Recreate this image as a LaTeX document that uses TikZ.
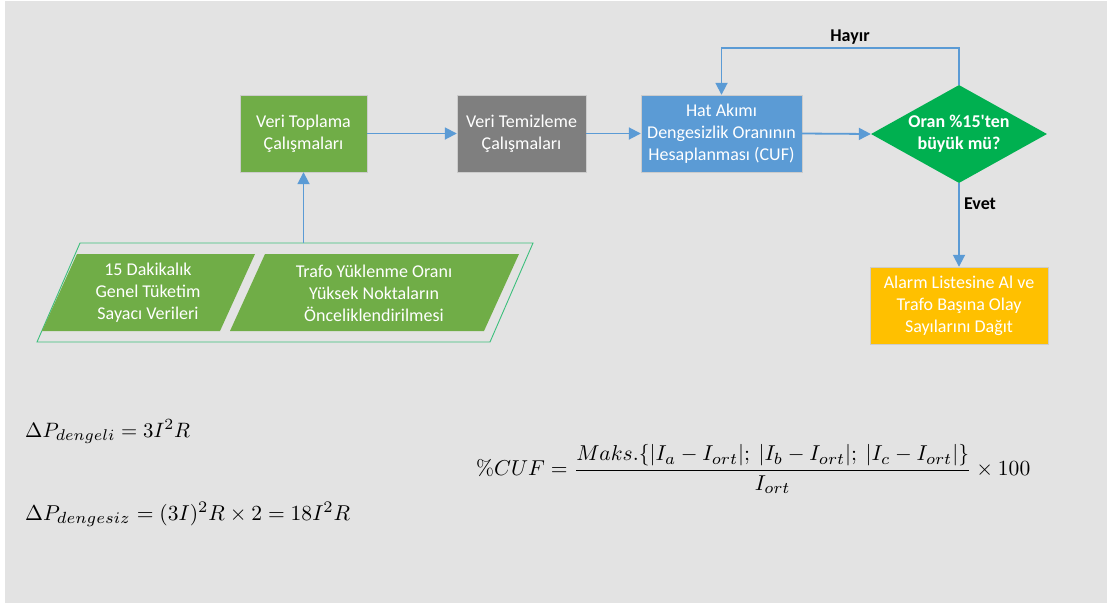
\RequirePackage{fix-cm}
\documentclass[tikz,border=0pt]{standalone}
\usepackage{amsmath}
\usepackage{graphicx}
\usepackage[no-math]{fontspec}
\setmainfont{Carlito}[Ligatures=TeXOff]
\DeclareMathSizes{10}{10}{7.5}{5.5}
\usetikzlibrary{shapes.geometric,arrows.meta}
\definecolor{bggray}{HTML}{E3E3E3}
\definecolor{boxgreen}{HTML}{70AD47}
\definecolor{boxgray}{HTML}{7F7F7F}
\definecolor{boxblue}{HTML}{5B9BD5}
\definecolor{dgreen}{HTML}{00B050}
\definecolor{boxorange}{HTML}{FFC000}
\definecolor{outline}{HTML}{3CBF7C}
\definecolor{arrowblue}{HTML}{5B9BD5}
\begin{document}
\begin{tikzpicture}[x=1pt,y=-1pt,
  boxtxt/.style={font=\fontsize{18}{22}\selectfont, text=white, align=center},
  procbox/.style={boxtxt, rectangle, inner sep=0pt, draw=white!80!black, line width=0.4pt},
  decide/.style={diamond, inner sep=0pt, fill=dgreen},
  diatext/.style={text=white, align=center, inner sep=0pt, font=\fontsize{18}{22}\selectfont\bfseries},
  conn/.style={draw=arrowblue, line width=1.8pt, -{Triangle[length=12pt,width=12pt]}},
  lbl/.style={font=\fontsize{18}{20}\selectfont\bfseries, text=black},
  eq/.style={inner sep=0pt}
]
\useasboundingbox (0,0) rectangle (1107,606);
\fill[white] (0,0) rectangle (1107,606);
\fill[bggray] (5,1) rectangle (1107,603);

% process boxes
\node[procbox, fill=boxgreen, minimum width=127pt, minimum height=77pt] (toplama) at (303.5,133.5) {Veri Toplama\\Çalışmaları};
\node[procbox, fill=boxgray, minimum width=129pt, minimum height=77pt] (temizleme) at (521.5,133.5) {Veri Temizleme\\Çalışmaları};
\node[procbox, fill=boxblue, minimum width=161pt, minimum height=77pt] (hat) at (721.5,133.5) {Hat Akımı\\Dengesizlik Oranının\\Hesaplanması (CUF)};
\node[decide, minimum width=176pt, minimum height=98pt,
  label={[diatext]center:Oran \%15'ten\\büyük mü?}] (karar) at (959,134) {};
\node[procbox, fill=boxorange, minimum width=178pt, minimum height=77pt] (alarm) at (959,305.5) {Alarm Listesine Al ve\\Trafo Başına Olay\\Sayılarını Dağıt};

% input parallelograms
\draw[outline, line width=0.9pt, fill=bggray] (80,243) -- (533,243) -- (490,342) -- (37,342) -- cycle;
\fill[boxgreen] (77,254) -- (255,254) -- (220,331) -- (42,331) -- cycle;
\fill[boxgreen] (265,254) -- (519,254) -- (484,331) -- (230,331) -- cycle;
\node[boxtxt] (sayac) at (148,293) {15 Dakikalık\\Genel Tüketim\\Sayacı Verileri};
\node[boxtxt] (trafo) at (374,293) {Trafo Yüklenme Oranı\\Yüksek Noktaların\\Önceliklendirilmesi};
\coordinate (girdi) at (303.5,243);

% connectors
\draw[conn] (girdi) -- (toplama.south);
\draw[conn] (toplama.east) -- (temizleme.west);
\draw[conn] (temizleme.east) -- (hat.west);
\draw[conn] (hat.east) -- (karar.west);
\draw[conn] (karar.north) -- (959,48) -| (hat.north);
\draw[conn] (karar.south) -- (alarm.north);
\node[lbl] (hayir) at (850,37) {Hayır};
\node[lbl] (evet) at (980,204) {Evet};

% formulas
\node[eq, anchor=base west] (f1) at (25,437) {\resizebox{165pt}{!}{$\Delta P_{dengeli} = 3I^2R$}};
\node[eq, anchor=base west] (f2) at (25,520) {\resizebox{325pt}{!}{$\Delta P_{dengesiz} = (3I)^2R\times 2 = 18I^2R$}};
\node[eq, anchor=west] (f3) at (476,469) {\resizebox{554pt}{!}{$\%CUF = \dfrac{Maks.\{|I_a - I_{ort}|;\ |I_b - I_{ort}|;\ |I_c - I_{ort}|\}}{I_{ort}}\times 100$}};
\end{tikzpicture}
\end{document}
